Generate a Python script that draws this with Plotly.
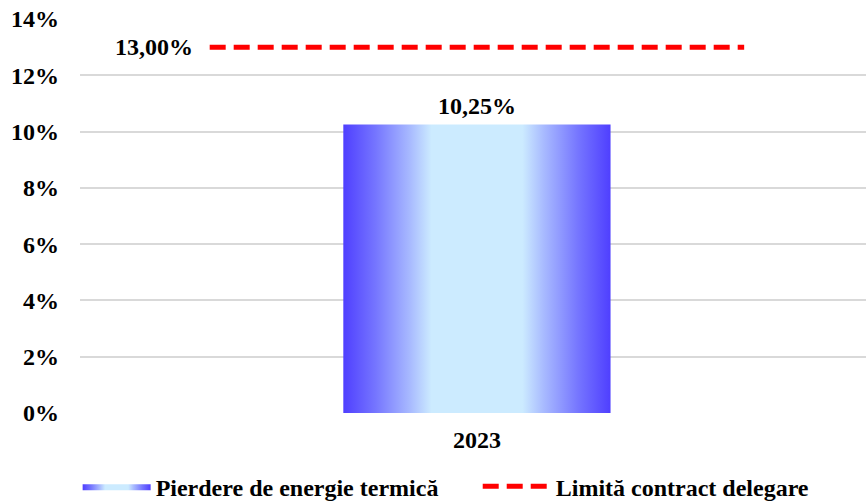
import plotly.graph_objects as go

# Data
categories = ["2023"]
loss_values = [10.25]          # Pierdere de energie termică (%)
limit_values = [13.00]         # Limită contract delegare (%)
y_ticks = [0, 2, 4, 6, 8, 10, 12, 14]

FONT = "Liberation Serif"
FS = 24
BAR_HALF = 0.17
LINE_X = [-0.34, 0.34]

fig = go.Figure()

# bar drawn as a filled shape so it can carry a horizontal gradient
v = loss_values[0]
fig.add_trace(go.Scatter(
    x=[-BAR_HALF, BAR_HALF, BAR_HALF, -BAR_HALF, -BAR_HALF],
    y=[0, 0, v, v, 0],
    mode="lines",
    line=dict(width=0),
    fill="toself",
    fillgradient=dict(
        type="horizontal",
        colorscale=[
            [0.0, "#4F3FFF"],
            [0.12, "#7575FF"],
            [0.25, "#A8BAFF"],
            [0.33, "#CCEBFF"],
            [0.67, "#CCEBFF"],
            [0.75, "#A8BAFF"],
            [0.88, "#7575FF"],
            [1.0, "#4F3FFF"],
        ],
    ),
    name="Pierdere de energie termică",
    legend="legend",
    hoverinfo="skip",
))

fig.add_trace(go.Scatter(
    x=LINE_X,
    y=[limit_values[0]] * 2,
    mode="lines",
    line=dict(color="#FF0000", width=5, dash="16px,8px"),
    name="Limită contract delegare",
    legend="legend2",
))

# value labels
fig.add_annotation(x=0, y=v, text=f"{v:.2f}".replace(".", ",") + "%",
                   showarrow=False, yanchor="bottom", yshift=4,
                   font=dict(family=FONT, size=FS, color="black"))
fig.add_annotation(x=LINE_X[0], y=limit_values[0],
                   text=f"{limit_values[0]:.2f}".replace(".", ",") + "%",
                   showarrow=False, xanchor="right", xshift=-15,
                   font=dict(family=FONT, size=FS, color="black"))

legend_style = dict(orientation="h", xanchor="left", y=-0.13, yanchor="top",
                    font=dict(family=FONT, size=FS, color="black", weight="bold"),
                    itemwidth=68, bgcolor="rgba(0,0,0,0)")

fig.update_layout(
    width=866, height=503,
    margin=dict(l=80, r=0, t=19, b=90, autoexpand=False),
    paper_bgcolor="white", plot_bgcolor="white",
    font=dict(family=FONT, size=FS, color="black", weight="bold"),
    showlegend=True,
    legend=dict(x=-0.003, **legend_style),
    legend2=dict(x=0.506, **legend_style),
    xaxis=dict(range=[-0.505, 0.495], tickvals=[0], ticktext=categories,
               showgrid=False, zeroline=False, showline=False, ticks="",
               ticklabelstandoff=10,
               tickfont=dict(family=FONT, size=FS, weight="bold")),
    yaxis=dict(range=[0, 14], tickvals=y_ticks,
               ticktext=[f"{t}%" for t in y_ticks],
               showgrid=True, gridcolor="#D9D9D9", gridwidth=1.5,
               zeroline=False, showline=False, ticks="",
               ticklabelstandoff=20,
               tickfont=dict(family=FONT, size=FS, weight="bold")),
)

fig.write_html("out.html")
